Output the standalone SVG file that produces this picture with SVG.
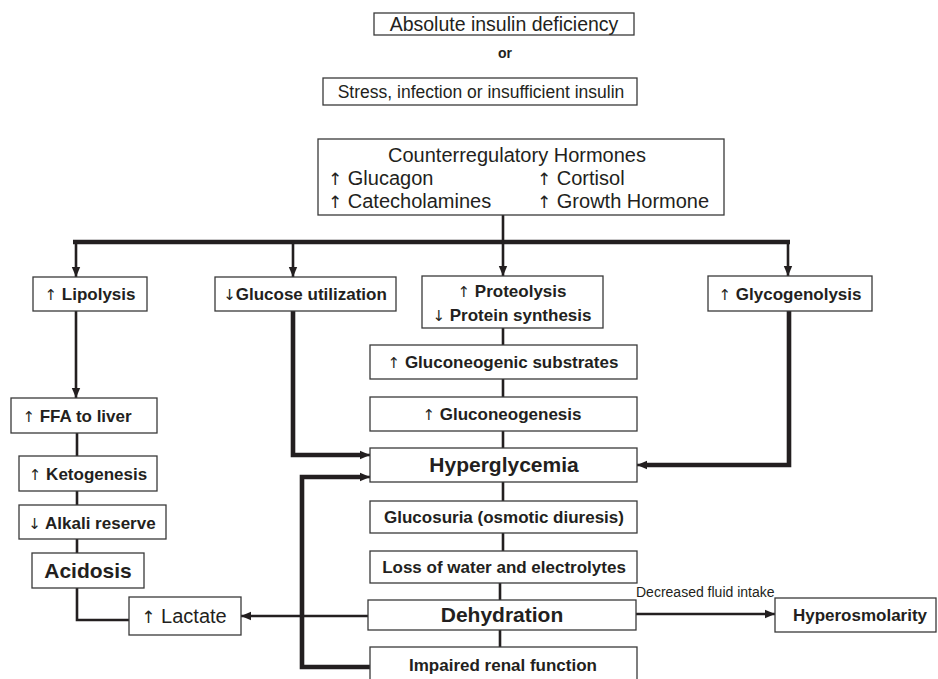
<svg xmlns="http://www.w3.org/2000/svg" width="938" height="679" viewBox="0 0 938 679">
<style>
rect.b{fill:#fff;stroke:#3a3a3a;stroke-width:1.3}
text{font-family:"Liberation Sans",Arial,Helvetica,sans-serif;fill:#231f20;text-anchor:middle}
.ar{font-family:"DejaVu Sans",sans-serif;font-weight:normal;fill:#231f20}
.n{font-weight:bold;font-size:17px}
.big{font-weight:bold;font-size:21px}
.reg{font-size:20px}
.l{text-anchor:start}
.thin{fill:none;stroke:#231f20;stroke-width:2.6}
.thick{fill:none;stroke:#231f20;stroke-width:4.6}
</style>
<defs>
<marker id="ah" markerUnits="userSpaceOnUse" markerWidth="10" markerHeight="10" viewBox="0 0 10 10" refX="10" refY="5" orient="auto">
<path d="M0,0.8 L10,5 L0,9.2 Z" fill="#231f20"/>
</marker>
</defs>
<rect width="938" height="679" fill="#fff"/>

<g id="connectors">
<line class="thin" x1="503" y1="215" x2="503" y2="242"/>
<line class="thick" x1="73" y1="242" x2="790" y2="242"/>
<line class="thin" x1="76" y1="242" x2="76" y2="277" marker-end="url(#ah)"/>
<line class="thin" x1="293" y1="242" x2="293" y2="277" marker-end="url(#ah)"/>
<line class="thin" x1="503" y1="242" x2="503" y2="276" marker-end="url(#ah)"/>
<line class="thin" x1="788" y1="242" x2="788" y2="276" marker-end="url(#ah)"/>
<line class="thin" x1="76" y1="311" x2="76" y2="398" marker-end="url(#ah)"/>
<line class="thin" x1="77" y1="433" x2="77" y2="456"/>
<line class="thin" x1="77" y1="491" x2="77" y2="505"/>
<line class="thin" x1="77" y1="539" x2="77" y2="553"/>
<polyline class="thin" points="77,588 77,620 129,620"/>
<line class="thin" x1="503" y1="328" x2="503" y2="345"/>
<line class="thin" x1="503" y1="379" x2="503" y2="397"/>
<line class="thin" x1="503" y1="431" x2="503" y2="448"/>
<line class="thin" x1="503" y1="482" x2="503" y2="501"/>
<line class="thin" x1="503" y1="533" x2="503" y2="551"/>
<line class="thin" x1="500" y1="583" x2="500" y2="600"/>
<line class="thin" x1="500" y1="630" x2="500" y2="647"/>
<polyline class="thick" points="293,311 293,455 362,455"/>
<line class="thin" x1="360" y1="455" x2="370" y2="455" marker-end="url(#ah)"/>
<polyline class="thick" points="789,311 789,465 646,465"/>
<line class="thin" x1="648" y1="465" x2="637" y2="465" marker-end="url(#ah)"/>
<polyline class="thick" points="370,667 302,667 302,477 362,477"/>
<line class="thin" x1="360" y1="477" x2="370" y2="477" marker-end="url(#ah)"/>
<line class="thin" x1="368" y1="616" x2="241" y2="616" marker-end="url(#ah)"/>
<line class="thin" x1="636" y1="614" x2="775" y2="614" marker-end="url(#ah)"/>
<text x="636" y="597" class="l" style="font-size:14px">Decreased fluid intake</text>
</g>

<g id="absolute">
<rect class="b" x="374" y="13" width="260" height="22"/>
<text x="504" y="31" style="font-size:19.5px">Absolute insulin deficiency</text>
</g>
<g id="or">
<text x="505" y="58" style="font-size:14px;font-weight:bold">or</text>
</g>
<g id="stress">
<rect class="b" x="323" y="78" width="314" height="27"/>
<text x="481" y="98" style="font-size:17.5px">Stress, infection or insufficient insulin</text>
</g>
<g id="counter">
<rect class="b" x="318" y="139" width="406" height="76"/>
<text x="517" y="162" class="reg">Counterregulatory Hormones</text>
<text x="328" y="185" class="reg l"><tspan class="ar" font-size="17">↑</tspan> Glucagon</text>
<text x="537" y="185" class="reg l"><tspan class="ar" font-size="17">↑</tspan> Cortisol</text>
<text x="328" y="208" class="reg l"><tspan class="ar" font-size="17">↑</tspan> Catecholamines</text>
<text x="537" y="208" class="reg l"><tspan class="ar" font-size="17">↑</tspan> Growth Hormone</text>
</g>
<g id="lipolysis">
<rect class="b" x="33" y="277" width="114" height="34"/>
<text x="90" y="300" class="n"><tspan class="ar" font-size="15">↑</tspan> Lipolysis</text>
</g>
<g id="glucose">
<rect class="b" x="215" y="277" width="181" height="34"/>
<text x="305" y="300" class="n"><tspan class="ar" font-size="15">↓</tspan>Glucose utilization</text>
</g>
<g id="proteolysis">
<rect class="b" x="422" y="276" width="181" height="52"/>
<text x="512" y="297" class="n"><tspan class="ar" font-size="15">↑</tspan> Proteolysis</text>
<text x="512" y="321" class="n"><tspan class="ar" font-size="15">↓</tspan> Protein synthesis</text>
</g>
<g id="glycogenolysis">
<rect class="b" x="708" y="276" width="164" height="35"/>
<text x="790" y="300" class="n"><tspan class="ar" font-size="15">↑</tspan> Glycogenolysis</text>
</g>
<g id="ffa">
<rect class="b" x="11" y="398" width="146" height="35"/>
<text x="77" y="422" class="n"><tspan class="ar" font-size="15">↑</tspan> FFA to liver</text>
</g>
<g id="ketogenesis">
<rect class="b" x="19" y="456" width="138" height="35"/>
<text x="88" y="480" class="n"><tspan class="ar" font-size="15">↑</tspan> Ketogenesis</text>
</g>
<g id="alkali">
<rect class="b" x="19" y="505" width="147" height="34"/>
<text x="92" y="529" class="n"><tspan class="ar" font-size="15">↓</tspan> Alkali reserve</text>
</g>
<g id="acidosis">
<rect class="b" x="32" y="553" width="112" height="35"/>
<text x="88" y="578" class="big">Acidosis</text>
</g>
<g id="lactate">
<rect class="b" x="129" y="597" width="112" height="38"/>
<text x="184" y="623" class="reg"><tspan class="ar" font-size="17">↑</tspan> Lactate</text>
</g>
<g id="substrates">
<rect class="b" x="370" y="345" width="267" height="34"/>
<text x="503" y="368" class="n"><tspan class="ar" font-size="15">↑</tspan> Gluconeogenic substrates</text>
</g>
<g id="gluconeogenesis">
<rect class="b" x="370" y="397" width="267" height="34"/>
<text x="502" y="420" class="n"><tspan class="ar" font-size="15">↑</tspan> Gluconeogenesis</text>
</g>
<g id="hyperglycemia">
<rect class="b" x="370" y="448" width="267" height="34"/>
<text x="504" y="472" class="big">Hyperglycemia</text>
</g>
<g id="glucosuria">
<rect class="b" x="370" y="501" width="267" height="32"/>
<text x="504" y="523" class="n">Glucosuria (osmotic diuresis)</text>
</g>
<g id="loss">
<rect class="b" x="370" y="551" width="267" height="32"/>
<text x="504" y="573" class="n">Loss of water and electrolytes</text>
</g>
<g id="dehydration">
<rect class="b" x="368" y="600" width="268" height="30"/>
<text x="502" y="622" class="big">Dehydration</text>
</g>
<g id="renal">
<rect class="b" x="370" y="647" width="267" height="40"/>
<text x="503" y="671" class="n">Impaired renal function</text>
</g>
<g id="hyperosmolarity">
<rect class="b" x="775" y="598" width="161" height="34"/>
<text x="860" y="621" class="n">Hyperosmolarity</text>
</g>
</svg>
